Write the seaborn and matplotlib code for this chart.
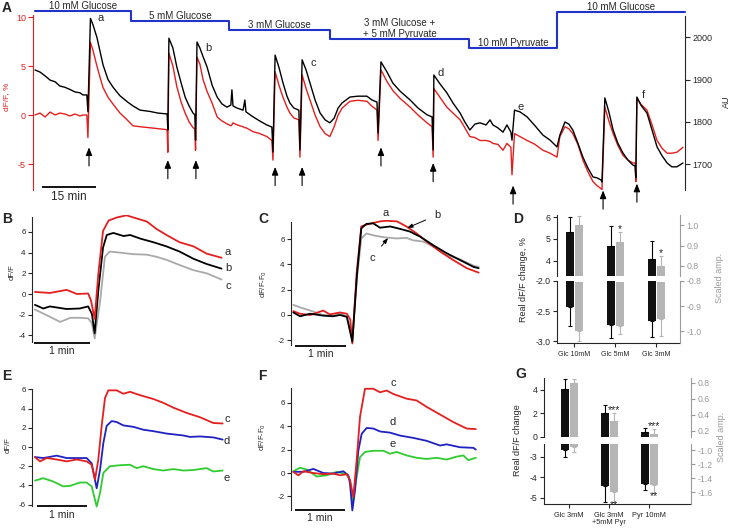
"""
Multi-panel calcium trace figure (A-G) redrawn with seaborn + matplotlib
"""

import numpy as np
import pandas as pd
import matplotlib
matplotlib.use('Agg')
import matplotlib.pyplot as plt
import seaborn as sns

# ──────────────────────────────────────────────
# 1. DATA
# ──────────────────────────────────────────────
# A: whole recording, time in min; red = dF/F (%), black = raw signal (AU)
a_time = [0.0, 1.4, 2.8, 4.2, 5.6, 6.9, 8.3, 9.7, 11.1, 12.5, 13.3, 14.4,
          14.7, 15.4, 16.1, 17.2, 18.1, 18.9, 20.3, 21.7, 23.6, 25.6, 27.2, 29.2,
          31.9, 34.2, 36.7, 36.9, 37.2, 38.3, 39.4, 40.6, 41.7, 42.8, 43.9, 44.4,
          44.6, 45.0, 45.8, 46.7, 47.8, 49.2, 50.6, 51.9, 53.3, 54.4, 54.7, 55.0,
          56.1, 57.8, 58.3, 58.6, 60.6, 62.5, 64.4, 65.8, 66.1, 66.7, 67.8, 68.9,
          70.0, 70.8, 71.9, 73.3, 73.6, 74.2, 75.3, 76.4, 77.8, 79.2, 80.6, 81.9,
          83.1, 84.2, 85.3, 87.5, 89.7, 92.2, 93.6, 95.0, 95.3, 96.1, 97.8, 99.4,
          101.4, 104.2, 106.4, 108.9, 110.3, 110.6, 110.8, 112.5, 114.4, 116.1, 118.1, 119.4,
          120.8, 122.2, 123.6, 125.3, 126.4, 127.2, 128.6, 130.0, 131.1, 132.2, 132.5, 133.2,
          134.7, 136.7, 138.9, 141.1, 143.1, 145.0, 145.8, 147.2, 148.3, 149.4, 150.8, 152.2,
          153.6, 155.0, 156.1, 157.2, 157.5, 158.3, 159.4, 160.6, 161.9, 163.3, 164.7, 166.1,
          166.7, 166.9, 167.2, 168.3, 170.0, 171.4, 172.8, 174.2, 175.6, 176.9, 178.3, 180.0]
a_dff = [0.0, 0.2, -0.2, 0.3, 0.0, 0.2, 0.1, -0.1, 0.1, -0.1, 0.0, 0.0,
         -2.3, 7.4, 6.6, 5.0, 3.8, 2.8, 1.8, 1.1, 0.2, -0.5, -1.1, -1.2,
         -1.3, -1.4, -1.5, -3.8, 6.3, 5.0, 2.9, 1.3, 0.2, -0.7, -1.3, -1.4,
         -3.6, 5.9, 5.2, 3.6, 2.4, 1.2, -0.2, -0.6, -0.9, -1.1, -1.0, -0.8,
         -1.0, -1.2, -1.3, -1.3, -1.7, -1.9, -2.2, -2.6, -4.6, 4.4, 3.0, 1.8,
         0.8, 0.2, -0.3, -0.5, -4.3, 4.1, 2.7, 1.5, 0.0, -1.2, -1.9, -2.2,
         -1.2, 0.0, 0.7, 1.4, 1.5, 1.4, 0.9, 0.5, -2.6, 4.6, 3.4, 2.5,
         1.7, 0.8, 0.0, -0.8, -1.2, -4.3, 2.7, 1.8, 0.8, 0.2, -0.5, -1.3,
         -2.2, -2.3, -2.6, -2.6, -2.7, -2.9, -3.0, -3.6, -2.9, -3.3, -6.1, -1.9,
         -2.2, -2.6, -3.0, -3.6, -3.9, -4.3, -2.2, -1.2, -1.4, -1.9, -3.0, -4.6,
         -5.8, -6.8, -7.2, -7.5, -7.6, 0.8, -0.6, -1.9, -3.1, -4.1, -4.6, -4.9,
         -4.9, -6.8, 1.7, 1.1, 0.5, -1.0, -2.6, -3.4, -3.9, -3.9, -3.8, -3.3]
a_au = [1923, 1918, 1909, 1899, 1895, 1885, 1882, 1877, 1871, 1869, 1864, 1864,
        1824, 2045, 2030, 2000, 1965, 1935, 1900, 1882, 1862, 1848, 1838, 1828,
        1825, 1821, 1819, 1781, 1998, 1975, 1930, 1892, 1859, 1838, 1821, 1817,
        1757, 1989, 1975, 1954, 1930, 1887, 1859, 1843, 1835, 1840, 1876, 1838,
        1833, 1828, 1852, 1824, 1812, 1802, 1793, 1788, 1729, 1958, 1928, 1892,
        1861, 1845, 1833, 1828, 1734, 1947, 1923, 1892, 1852, 1821, 1805, 1798,
        1809, 1833, 1845, 1859, 1861, 1861, 1852, 1847, 1774, 1942, 1918, 1892,
        1873, 1852, 1833, 1817, 1812, 1734, 1911, 1890, 1869, 1845, 1821, 1800,
        1781, 1795, 1798, 1793, 1805, 1793, 1786, 1776, 1793, 1776, 1757, 1828,
        1824, 1812, 1791, 1769, 1757, 1741, 1769, 1800, 1795, 1781, 1750, 1717,
        1691, 1670, 1668, 1663, 1658, 1857, 1824, 1781, 1750, 1727, 1710, 1698,
        1696, 1668, 1859, 1840, 1821, 1781, 1741, 1720, 1703, 1694, 1694, 1703]

stim_time = [15.0, 36.9, 44.7, 66.7, 74.2, 96.1, 110.6, 132.8, 157.8, 167.2]

sol_names = ['10 mM Glucose', '5 mM Glucose', '3 mM Glucose',
             '3 mM Glucose +\n+ 5 mM Pyruvate', '10 mM Pyruvate', '10 mM Glucose']
sol_start = [0.0, 26.7, 53.9, 81.9, 120.6, 145.0]
sol_end = 180.6

a_letters = ['a', 'b', 'c', 'd', 'e', 'f']
a_letter_t = [18.1, 48.1, 77.2, 112.8, 135.0, 168.9]

# B: dF/F around a stimulus (time in s)
b_t_a = [1, 17, 35, 46, 58, 61, 65, 69, 74, 80, 89, 99, 110, 121, 131, 142, 156, 171, 185, 201]
b_v_a = [0.2, 0.1, 0.4, 0.0, 0.05, -0.6, -2.4, 2.0, 6.1, 7.1, 7.4, 7.6, 7.3, 7.0, 6.3, 5.7, 5.0, 4.6, 3.9, 3.5]
b_t_b = [1, 10, 17, 35, 49, 58, 62, 65, 69, 74, 78, 85, 96, 103, 114, 128, 142, 156, 171, 185, 201]
b_v_b = [-1.05, -1.4, -1.2, -1.45, -1.4, -1.2, -1.9, -3.8, 0.4, 4.5, 5.7, 5.9, 5.6, 5.7, 5.35, 5.0, 4.6, 4.1, 3.4, 2.9, 2.45]
b_t_c = [1, 17, 28, 39, 49, 58, 62, 65, 71, 76, 81, 92, 106, 121, 131, 142, 156, 171, 185, 201]
b_v_c = [-1.5, -2.2, -2.7, -2.3, -2.3, -2.35, -2.8, -4.3, -0.6, 3.6, 4.1, 4.0, 3.85, 3.8, 3.6, 3.3, 2.8, 2.3, 2.0, 1.4]

# C: same traces, baseline subtracted
c_t_a = [-2, 6, 18, 33, 41, 53, 61, 65, 67.4, 72.5, 78, 84, 100, 108, 120, 131, 143, 155, 171, 186, 202, 216]
c_v_a = [0.3, 0.1, 0.0, 0.35, 0.05, 0.2, 0.1, -0.35, -2.25, 3.3, 7.0, 7.15, 7.4, 7.45, 7.4, 7.0, 6.45, 5.8, 5.0, 4.35, 3.7, 3.35]
c_t_b = [-2, 6, 18, 33, 45, 53, 61, 67.4, 73, 78, 84, 92, 100, 112, 124, 135, 147, 163, 178, 194, 210, 216]
c_v_b = [0.2, -0.1, 0.1, -0.05, -0.1, 0.0, -0.15, -2.1, 3.3, 6.85, 7.2, 7.25, 6.9, 7.0, 6.8, 6.6, 6.2, 5.5, 4.9, 4.35, 3.8, 3.7]
c_t_c = [-2, 6, 18, 33, 45, 53, 61, 67.4, 73, 78, 84, 92, 104, 120, 131, 139, 151, 163, 178, 194, 210, 216]
c_v_c = [0.8, 0.6, 0.35, 0.0, -0.05, 0.1, -0.1, -2.0, 3.0, 6.05, 6.45, 6.3, 6.15, 6.05, 6.1, 5.9, 5.8, 5.4, 4.75, 4.4, 3.9, 3.8]

# E: dF/F for stimuli c, d, e
e_t_c = [-2.4, 3.6, 11.6, 23.6, 35.6, 47.6, 59.6, 65.6, 69.6, 73.6, 77.6, 81.6, 85.6, 95.6, 103.6, 111.6, 123.6, 139.6, 151.6, 163.6, 179.6, 195.6, 211.6, 222.8]
e_v_c = [-1.05, -1.5, -1.15, -1.3, -1.5, -1.3, -1.5, -1.85, -3.4, -1.3, 2.2, 5.1, 5.9, 5.9, 5.55, 5.75, 5.4, 5.0, 4.6, 4.1, 3.55, 3.1, 2.5, 2.45]
e_t_d = [-2.4, 7.6, 23.6, 35.6, 47.6, 59.6, 65.6, 71.6, 75.6, 79.6, 83.6, 89.6, 95.6, 103.6, 115.6, 127.6, 139.6, 155.6, 175.6, 183.6, 195.6, 211.6, 222.8]
e_v_d = [-1.05, -1.15, -0.9, -1.15, -1.15, -1.15, -1.7, -4.3, -2.4, 0.4, 2.2, 2.7, 2.6, 2.25, 2.1, 1.8, 1.65, 1.4, 1.2, 1.05, 1.1, 1.0, 0.77]
e_t_e = [-2.4, 7.6, 19.6, 31.6, 39.6, 51.6, 59.6, 65.6, 71.6, 75.6, 79.6, 87.6, 99.6, 111.6, 119.6, 127.6, 139.6, 151.6, 163.6, 175.6, 187.6, 203.6, 211.6, 222.8]
e_v_e = [-3.5, -3.25, -3.6, -4.1, -4.05, -3.7, -3.7, -4.1, -6.2, -4.8, -2.7, -2.0, -1.9, -1.85, -2.2, -2.0, -2.3, -2.45, -2.3, -2.45, -2.4, -2.2, -2.55, -2.45]

# F: baseline subtracted c, d, e
f_t_c = [-2, 4, 10, 22, 34, 46, 54, 62, 66, 70, 74, 78, 84, 94, 102, 110, 118, 134, 146, 158, 174, 190, 206, 217]
f_v_c = [0.1, -0.2, 0.15, 0.0, -0.1, -0.05, -0.2, -0.1, -0.6, -2.05, 1.1, 4.8, 7.2, 7.2, 6.9, 7.05, 6.75, 6.35, 6.2, 5.65, 5.0, 4.35, 3.8, 3.75]
f_t_d = [-2, 10, 22, 34, 46, 58, 64, 66, 68.8, 72, 76, 80, 86, 94, 102, 114, 126, 142, 158, 174, 182, 198, 214, 217]
f_v_d = [0.1, 0.1, 0.35, 0.0, -0.05, 0.15, -0.2, -0.9, -3.2, -1.5, 1.9, 3.35, 3.85, 3.8, 3.55, 3.45, 3.2, 3.0, 2.75, 2.35, 2.45, 2.2, 2.15, 2.0]
f_t_e = [-2, 6, 14, 26, 38, 50, 62, 66, 69.2, 74, 78, 84, 94, 106, 114, 122, 134, 146, 158, 170, 182, 194, 202, 208, 217]
f_v_e = [0.15, 0.45, 0.3, -0.3, -0.2, 0.1, -0.1, -0.6, -2.4, -0.35, 1.35, 1.8, 1.9, 1.9, 1.65, 1.8, 1.5, 1.3, 1.2, 1.3, 1.15, 1.4, 1.5, 1.1, 1.3]

# D: mean +/- SEM, real dF/F change (%) and scaled amplitude
d_groups = ['Glc 10mM', 'Glc 5mM', 'Glc 3mM']
d_up_real = [5.3, 4.7, 4.1]
d_up_real_err = [0.7, 0.9, 0.8]
d_up_scaled = [1.0, 0.915, 0.80]
d_up_scaled_err = [0.045, 0.05, 0.05]
d_down_real = [-2.43, -2.73, -2.66]
d_down_real_err = [0.32, 0.22, 0.27]
d_down_scaled = [-1.0, -0.98, -0.95]
d_down_scaled_err = [0.04, 0.03, 0.07]
d_up_sig = ['', '*', '*']
d_down_sig = ['', '', '']

# G
g_groups = ['Glc 3mM', 'Glc 3mM\n+5mM Pyr', 'Pyr 10mM']
g_up_real = [4.1, 2.0, 0.45]
g_up_real_err = [0.8, 0.7, 0.35]
g_up_scaled = [0.8, 0.325, 0.16]
g_up_scaled_err = [0.05, 0.1, 0.065]
g_down_real = [-2.65, -4.4, -4.3]
g_down_real_err = [0.35, 0.8, 0.3]
g_down_scaled = [-0.96, -1.6, -1.5]
g_down_scaled_err = [0.07, 0.14, 0.11]
g_up_sig = ['', '***', '***']
g_down_sig = ['', '**', '**']

# ──────────────────────────────────────────────
# 2. STYLE
# ──────────────────────────────────────────────
sns.set_theme(context='paper', style='ticks')
plt.rcParams['font.family'] = ['Liberation Sans', 'DejaVu Sans']
plt.rcParams['axes.unicode_minus'] = False
plt.rcParams['axes.linewidth'] = 0.8

RED = '#e41f1f'
BLUE = '#1f22c0'
GREEN = '#2fcc2f'
GREY = '#a9a9a9'
SOL = '#2233cc'
BAR_K = '#111111'
BAR_G = '#b5b5b5'
AX_G = '#9a9a9a'

W, H = 731, 530
fig = plt.figure(figsize=(W / 100, H / 100), dpi=100)


def px_box(left, top, right, bottom):
    return [left / W, 1 - bottom / H, (right - left) / W, (bottom - top) / H]


def ftext(x, y, s, **kw):
    fig.text(x / W, 1 - y / H, s, **kw)


def long_df(traces):
    return pd.concat([pd.DataFrame({'t': t, 'v': v, 'trace': n}) for n, t, v in traces],
                     ignore_index=True)


def trace_panel(box, traces, palette, xlim, ylim, yticks, bounds):
    ax = fig.add_axes(px_box(*box))
    sns.lineplot(data=long_df(traces), x='t', y='v', hue='trace',
                 hue_order=[n for n, _, _ in traces], palette=palette,
                 estimator=None, sort=False, legend=False, lw=1.3, ax=ax)
    ax.set_xlim(xlim)
    ax.set_ylim(ylim)
    ax.set_xticks([])
    ax.set_yticks(yticks)
    ax.set_xlabel('')
    ax.set_ylabel('')
    for s in ['top', 'right', 'bottom']:
        ax.spines[s].set_visible(False)
    ax.spines['left'].set_bounds(*bounds)
    ax.tick_params(axis='y', labelsize=5.8, length=3, width=0.8, pad=1.5)
    return ax


def scale_bar(ax, t0, length, y, text, fs=7.5):
    ax.plot([t0, t0 + length], [y, y], color='black', lw=1.3, clip_on=False,
            solid_capstyle='butt')
    ax.annotate(text, (t0 + length / 2, y), xytext=(0, -2.5), textcoords='offset points',
                ha='center', va='top', fontsize=fs, annotation_clip=False)


def bar_half(box, xlim, ylim_l, ylim_r, ticks_l, ticks_r, fmt_l, fmt_r,
             real, real_err, scaled, scaled_err, sig, up, off, width):
    ax = fig.add_axes(px_box(*box))
    axr = ax.twinx()
    ax.set_xlim(xlim)
    ax.set_ylim(ylim_l)
    axr.set_ylim(ylim_r)
    x = np.arange(len(real))
    base_l = ylim_l[0] if up else ylim_l[1]
    base_r = ylim_r[0] if up else ylim_r[1]
    ax.bar(x - off, np.array(real) - base_l, bottom=base_l, width=width, color=BAR_K, lw=0)
    axr.bar(x + off, np.array(scaled) - base_r, bottom=base_r, width=width, color=BAR_G, lw=0)
    z = np.zeros(len(real))
    ax.errorbar(x - off, real, yerr=[z, real_err] if up else [real_err, z], fmt='none',
                ecolor='black', elinewidth=0.8, capsize=1.6, capthick=0.8)
    axr.errorbar(x + off, scaled, yerr=[z, scaled_err] if up else [scaled_err, z], fmt='none',
                 ecolor=BAR_G, elinewidth=0.8, capsize=1.6, capthick=0.8)
    for xi, v, e, s in zip(x, scaled, scaled_err, sig):
        if not s:
            continue
        if up:
            axr.annotate(s, (xi + off, v + e), xytext=(0, -1.5), textcoords='offset points',
                         ha='center', va='bottom', fontsize=7.5, annotation_clip=False)
        else:
            axr.annotate(s, (xi + off, v - e), xytext=(0, 1.5), textcoords='offset points',
                         ha='center', va='top', fontsize=7.5, annotation_clip=False)
    ax.set_yticks(ticks_l)
    ax.set_yticklabels([fmt_l.format(t) for t in ticks_l])
    axr.set_yticks(ticks_r)
    axr.set_yticklabels([fmt_r.format(t) for t in ticks_r])
    for s in ['top', 'right', 'bottom']:
        ax.spines[s].set_visible(False)
    for s in ['top', 'left', 'bottom']:
        axr.spines[s].set_visible(False)
    axr.spines['right'].set_color(AX_G)
    ax.tick_params(axis='y', labelsize=6.3, length=3, width=0.8, pad=1.5)
    axr.tick_params(axis='y', labelsize=6.3, length=3, width=0.8, pad=1.5,
                    colors=AX_G)
    ax.set_xticks([])
    return ax, axr


# ──────────────────────────────────────────────
# 3. PANEL A
# ──────────────────────────────────────────────
axA = fig.add_axes(px_box(33, 0, 685, 190))
axA_r = axA.twinx()
sns.lineplot(x=a_time, y=a_dff, color=RED, lw=1.0, estimator=None, sort=False, ax=axA)
sns.lineplot(x=a_time, y=a_au, color='black', lw=1.0, estimator=None, sort=False, ax=axA_r)
axA.set_xlim(-0.556, 180.56)
axA.set_ylim(-7.653, 11.735)
axA_r.set_ylim(1639.2, 2088.4)
axA.set_xticks([])
axA.set_yticks([-5, 0, 5, 10])
axA_r.set_yticks([1700, 1800, 1900, 2000])
for s in ['top', 'right', 'bottom']:
    axA.spines[s].set_visible(False)
for s in ['top', 'left', 'bottom']:
    axA_r.spines[s].set_visible(False)
axA.spines['left'].set_color(RED)
axA.spines['left'].set_bounds(-7.65, 10.2)
axA_r.spines['right'].set_bounds(1640, 2050)
axA.tick_params(axis='y', colors=RED, labelsize=6.5, length=3.5, width=0.8, pad=1.5)
axA_r.tick_params(axis='y', labelsize=6.5, length=3.5, width=0.8, pad=2)

# solution bar on top
sol_level = [10.6, 9.6, 8.7, 7.8, 6.8, 10.5]
axA.step(sol_start + [sol_end], sol_level + [sol_level[-1]], where='post',
         color=SOL, lw=1.5, clip_on=False)
sol_ends = sol_start[1:] + [sol_end]
for name, t0, t1, lev in zip(sol_names, sol_start, sol_ends, sol_level):
    axA.annotate(name, ((t0 + t1) / 2, lev), xytext=(0, 0), textcoords='offset points',
                 ha='center', va='bottom', fontsize=7, linespacing=1.05,
                 annotation_clip=False)

# stimulus arrows
arrow_tip = [-3.3, -4.6, -4.6, -5.3, -5.3, -3.3, -4.9, -7.2, -7.7, -7.0]
arrow_len = 1.9
for t, tip in zip(stim_time, arrow_tip):
    axA.annotate('', xy=(t, tip), xytext=(t, tip - arrow_len),
                 arrowprops=dict(arrowstyle='-|>,head_length=0.5,head_width=0.2',
                                 color='black', lw=0.8, shrinkA=0, shrinkB=0),
                 annotation_clip=False)

a_letter_v = [9.6, 6.5, 5.0, 4.0, 0.5, 1.7]
for s, t, v in zip(a_letters, a_letter_t, a_letter_v):
    axA.text(t, v, s, fontsize=8, ha='center', va='baseline')

scale_bar(axA, 1.9, 15, -7.35, '15 min', fs=8.5)

ftext(7, 8, 'A', fontsize=10, fontweight='bold', ha='center', va='center')
ftext(7, 97, 'dF/F, %', color=RED, fontsize=6, rotation=90, ha='center', va='center')
ftext(726, 102, 'AU', fontsize=6.5, rotation=90, ha='center', va='center')

# ──────────────────────────────────────────────
# 4. PANELS B, C, E, F
# ──────────────────────────────────────────────
axB = trace_panel((32, 215, 235, 343),
                  [('c', b_t_c, b_v_c), ('b', b_t_b, b_v_b), ('a', b_t_a, b_v_a)],
                  {'a': RED, 'b': 'black', 'c': GREY},
                  (-2.14, 215.4), (-4.734, 7.633), [-4, -2, 0, 2, 4, 6], (-4.64, 7.44))
scale_bar(axB, 0, 60, -4.73, '1 min')
for s, v in zip(['a', 'b', 'c'], [4.06, 2.5, 0.77]):
    axB.text(208, v, s, fontsize=8, ha='center', va='center')

axC = trace_panel((291, 220, 480, 347),
                  [('c', c_t_c, c_v_c), ('a', c_t_a, c_v_a), ('b', c_t_b, c_v_b)],
                  {'a': RED, 'b': 'black', 'c': GREY},
                  (-4.71, 217.6), (-2.53, 7.51), [-2, 0, 2, 4, 6], (-2.37, 7.35))
scale_bar(axC, 0, 60, -2.45, '1 min')
axC.text(107, 8.06, 'a', fontsize=8, ha='center', va='center')
axC.annotate('b', xy=(132, 6.88), xytext=(167, 7.9), fontsize=8, ha='center', va='center',
             arrowprops=dict(arrowstyle='-|>,head_length=0.4,head_width=0.15',
                             color='black', lw=0.7, shrinkA=4, shrinkB=0))
axC.annotate('c', xy=(109.4, 6.09), xytext=(90.6, 4.5), fontsize=8, ha='center', va='center',
             arrowprops=dict(arrowstyle='-|>,head_length=0.4,head_width=0.15',
                             color='black', lw=0.7, shrinkA=4, shrinkB=0))

axE = trace_panel((32, 388, 230, 508),
                  [('e', e_t_e, e_v_e), ('d', e_t_d, e_v_d), ('c', e_t_c, e_v_c)],
                  {'c': RED, 'd': BLUE, 'e': GREEN},
                  (-6, 231.6), (-6.354, 6.146), [-6, -4, -2, 0, 2, 4, 6], (-6.15, 6.05))
scale_bar(axE, 0, 60, -6.15, '1 min')
for s, v in zip(['c', 'd', 'e'], [2.9, 0.6, -3.2]):
    axE.text(228, v, s, fontsize=8, ha='center', va='center')

axF = trace_panel((291, 386, 480, 512),
                  [('e', f_t_e, f_v_e), ('d', f_t_d, f_v_d), ('c', f_t_c, f_v_c)],
                  {'c': RED, 'd': BLUE, 'e': GREEN},
                  (-4.8, 222), (-3.333, 7.436), [-2, 0, 2, 4, 6], (-3.16, 7.26))
scale_bar(axF, 0, 60, -3.16, '1 min')
for s, v in zip(['c', 'd', 'e'], [7.7, 4.36, 2.48]):
    axF.text(117.6, v, s, fontsize=8, ha='center', va='center')

ftext(7, 219, 'B', fontsize=10, fontweight='bold', ha='center', va='center')
ftext(263, 219, 'C', fontsize=10, fontweight='bold', ha='center', va='center')
ftext(7, 376, 'E', fontsize=10, fontweight='bold', ha='center', va='center')
ftext(262, 376, 'F', fontsize=10, fontweight='bold', ha='center', va='center')
ftext(12, 272, 'dF/F', fontsize=5.5, rotation=90, ha='center', va='center')
ftext(264, 284, 'dF/F-F$_0$', fontsize=5.5, rotation=90, ha='center', va='center')
ftext(8, 445, 'dF/F', fontsize=5.5, rotation=90, ha='center', va='center')
ftext(263, 437, 'dF/F-F$_0$', fontsize=5.5, rotation=90, ha='center', va='center')

# ──────────────────────────────────────────────
# 5. PANELS D, G (broken-axis bars)
# ──────────────────────────────────────────────
D_XLIM = (-0.415, 2.585)
bar_half((557, 215, 680, 276), D_XLIM, (3.318, 6.091), (0.7512, 1.0488),
         [4, 5, 6], [0.8, 0.9, 1.0], '{:g}', '{:.1f}',
         d_up_real, d_up_real_err, d_up_scaled, d_up_scaled_err, d_up_sig,
         True, 0.11, 0.195)
axD_b, axD_br = bar_half((557, 281, 680, 343), D_XLIM, (-3.033, -2.0), (-1.047, -0.8039),
                         [-3.0, -2.5, -2.0], [-1.0, -0.9, -0.8], '{:.1f}', '{:.1f}',
                         d_down_real, d_down_real_err, d_down_scaled, d_down_scaled_err,
                         d_down_sig, False, 0.11, 0.195)
axD_b.spines['bottom'].set_visible(True)
axD_b.set_xticks(range(3))
axD_b.set_xticklabels(d_groups)
axD_b.tick_params(axis='x', labelsize=5, length=3, width=0.8, pad=3)

G_XLIM = (-0.625, 3.05)
bar_half((544, 378, 691, 437), G_XLIM, (0.0, 5.02), (0.125, 0.8625),
         [0, 2, 4], [0.2, 0.4, 0.6, 0.8], '{:g}', '{:.1f}',
         g_up_real, g_up_real_err, g_up_scaled, g_up_scaled_err, g_up_sig,
         True, 0.1125, 0.2)
axG_b, axG_br = bar_half((544, 444, 691, 504), G_XLIM, (-5.293, -2.366), (-1.771, -0.914),
                         [-5, -4, -3], [-1.6, -1.4, -1.2, -1.0], '{:g}', '{:.1f}',
                         g_down_real, g_down_real_err, g_down_scaled, g_down_scaled_err,
                         g_down_sig, False, 0.1125, 0.2)
axG_b.spines['bottom'].set_visible(True)
axG_b.set_xticks(range(3))
axG_b.set_xticklabels(g_groups, linespacing=0.95)
axG_b.tick_params(axis='x', labelsize=5.3, length=3, width=0.8, pad=3)

ftext(518, 219, 'D', fontsize=10, fontweight='bold', ha='center', va='center')
ftext(521, 374, 'G', fontsize=10, fontweight='bold', ha='center', va='center')
ftext(523, 280, 'Real dF/F change, %', fontsize=6.5, rotation=90, ha='center', va='center')
ftext(719, 278, 'Scaled amp.', fontsize=6.5, color=AX_G, rotation=90, ha='center', va='center')
ftext(518, 440, 'Real dF/F change', fontsize=6.5, rotation=90, ha='center', va='center')
ftext(722, 437, 'Scaled amp.', fontsize=6.5, color=AX_G, rotation=90, ha='center', va='center')

fig.savefig('out.png', dpi=100)
